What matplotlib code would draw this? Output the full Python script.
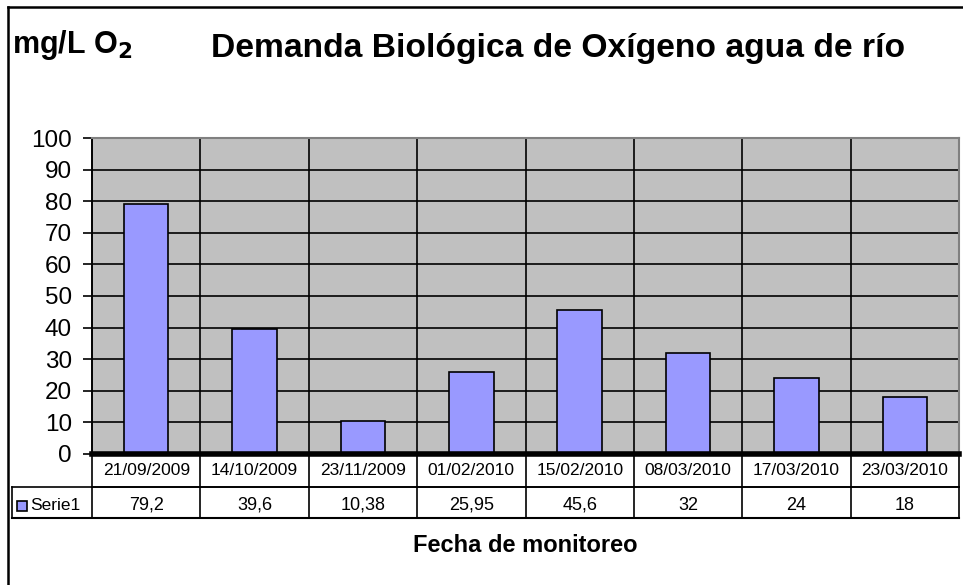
import matplotlib.pyplot as plt
from matplotlib.patches import Rectangle
from matplotlib.lines import Line2D

fechas = ['21/09/2009', '14/10/2009', '23/11/2009', '01/02/2010',
          '15/02/2010', '08/03/2010', '17/03/2010', '23/03/2010']
dbo = [79.2, 39.6, 10.38, 25.95, 45.6, 32, 24, 18]
etiquetas = ['79,2', '39,6', '10,38', '25,95', '45,6', '32', '24', '18']
serie = 'Serie1'

plt.rcParams['font.family'] = ['Liberation Sans', 'DejaVu Sans']

W, H = 963, 585
fig = plt.figure(figsize=(W / 100, H / 100), dpi=100)

# marco exterior (solo visible arriba e izquierda)
fig.add_artist(Line2D([8 / W, 1.01], [1 - 7 / H, 1 - 7 / H], color='black', lw=1.8,
                      transform=fig.transFigure))
fig.add_artist(Line2D([8 / W, 8 / W], [1 - 7 / H, -0.01], color='black', lw=1.8,
                      transform=fig.transFigure))

x0, x1, ytop, ybot = 92, 959, 138, 454
ax = fig.add_axes([x0 / W, 1 - ybot / H, (x1 - x0) / W, (ybot - ytop) / H])
ax.set_facecolor('#C0C0C0')
n = len(fechas)
pos = list(range(n))
ax.bar(pos, dbo, width=0.41, color='#9999FF', edgecolor='black', linewidth=1.2, zorder=3)
ax.set_xlim(-0.5, n - 0.5)
ax.set_ylim(0, 100)
ax.set_yticks(range(0, 101, 10))
ax.tick_params(axis='y', labelsize=17.5, length=6.5, width=1.2, pad=8)
ax.set_xticks([])
ax.yaxis.grid(True, color='black', lw=1.2, zorder=1)
ax.set_axisbelow(True)
for s in ['top', 'right']:
    ax.spines[s].set_color('#808080')
    ax.spines[s].set_linewidth(1.5)
ax.spines['left'].set_linewidth(1.2)
ax.spines['bottom'].set_linewidth(4)
ax.spines['bottom'].set_zorder(5)

# tabla de datos bajo el eje
tr = ax.get_xaxis_transform()
hpx = ybot - ytop
r1 = -33 / hpx
r2 = -64 / hpx
xleft = -0.5 - 80 / ((x1 - x0) / n)
for i in range(n + 1):
    ax.plot([i - 0.5, i - 0.5], [1, r2], color='black', lw=1.2, transform=tr,
            clip_on=False, zorder=2)
ax.plot([-0.5, n - 0.5], [r1, r1], color='black', lw=1.2, transform=tr, clip_on=False)
ax.plot([xleft, n - 0.5], [r1, r1], color='black', lw=1.2, transform=tr, clip_on=False)
ax.plot([xleft, n - 0.5], [r2, r2], color='black', lw=1.5, transform=tr, clip_on=False)
ax.plot([xleft, xleft], [r1, r2], color='black', lw=1.2, transform=tr, clip_on=False)
yfila2 = (r1 + r2) / 2 - 3 / hpx
for i in range(n):
    ax.text(i, r1 / 2, fechas[i], ha='center', va='center', fontsize=12.5,
            transform=tr, clip_on=False)
    ax.text(i, yfila2, etiquetas[i], ha='center', va='center', fontsize=13,
            transform=tr, clip_on=False)
ax.add_patch(Rectangle((xleft + 0.045, yfila2 - 5 / hpx), 0.09, 10 / hpx,
                       facecolor='#9999FF', edgecolor='black', lw=1.2,
                       transform=tr, clip_on=False))
ax.text(xleft + 0.17, yfila2, serie, ha='left', va='center', fontsize=12.5,
        transform=tr, clip_on=False)

fig.text(12 / W, 1 - 53 / H, 'mg/L O$_\\mathbf{2}$', fontsize=22, fontweight='bold',
         ha='left', va='baseline')
fig.text(558 / W, 1 - 57 / H, 'Demanda Biológica de Oxígeno agua de río', fontsize=24.2,
         fontweight='bold', ha='center', va='baseline')
fig.text(525 / W, 1 - 552 / H, 'Fecha de monitoreo', fontsize=17, fontweight='bold',
         ha='center', va='baseline')

fig.savefig('out.png', dpi=100)
